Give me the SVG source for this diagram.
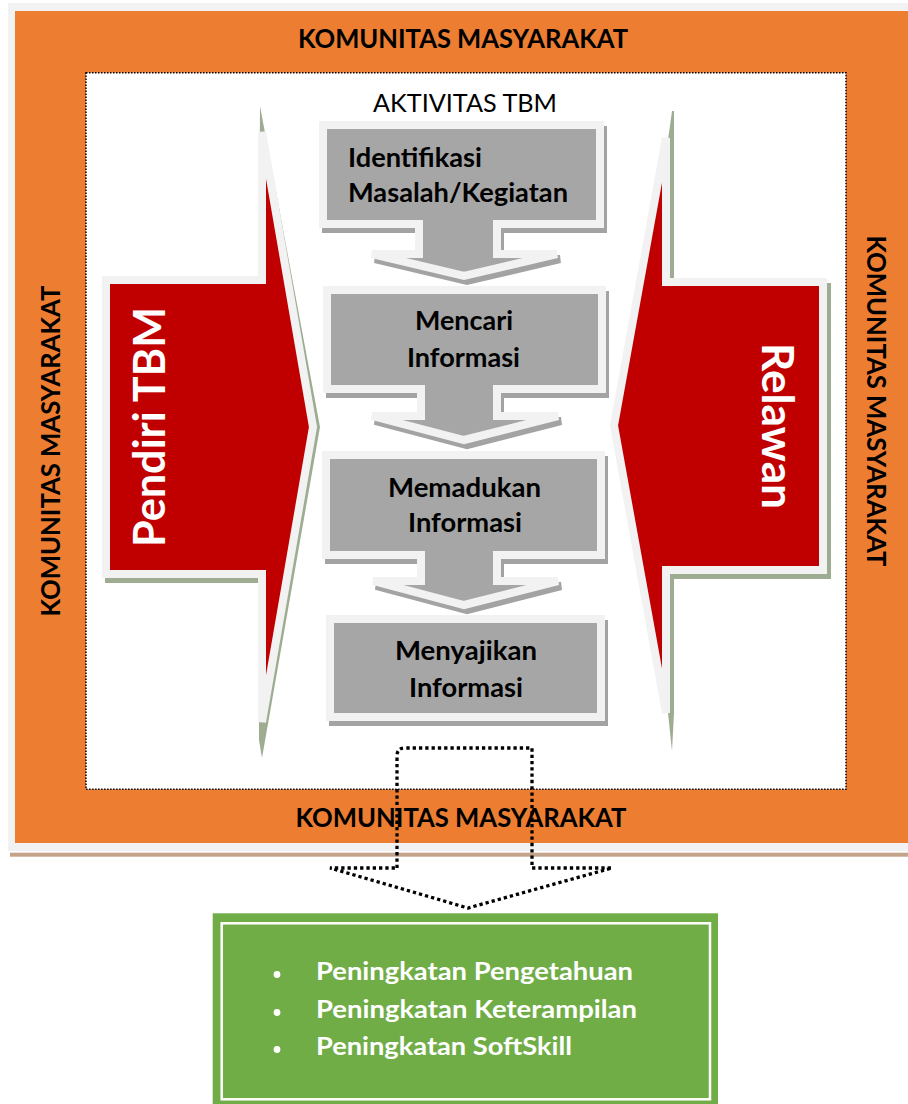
<svg xmlns="http://www.w3.org/2000/svg" width="908" height="1104" viewBox="0 0 908 1104">
<style>
.band{font-family:Lato,"Liberation Sans",sans-serif;font-weight:bold;font-size:26px;fill:#000;text-anchor:middle}
.title{font-family:Lato,"Liberation Sans",sans-serif;font-size:24.5px;fill:#000;text-anchor:middle}
.big{font-family:Lato,"Liberation Sans",sans-serif;font-weight:bold;font-size:44px;fill:#fff;text-anchor:middle}
.box{font-family:Lato,"Liberation Sans",sans-serif;font-weight:bold;font-size:26.5px;fill:#000}
.mid{text-anchor:middle}
.res{font-family:Lato,"Liberation Sans",sans-serif;font-weight:bold;font-size:24.5px;fill:#fff}
.arrowshape{fill:#c00000;stroke:#f2f2f2;stroke-width:8}
.arrowshadow{fill:#9eac92}
.boxshape{fill:#a6a6a6;stroke:#f2f2f2;stroke-width:8}
.boxshadow{fill:#a3a3a3;stroke:#a3a3a3;stroke-width:8}
</style>
<rect x="0" y="0" width="908" height="1104" fill="#fff"/>
<g id="komunitas-frame">
<rect x="8" y="3" width="900" height="848" fill="#f2f2f2"/>
<rect x="10" y="852.7" width="898" height="4" fill="#c4a38b"/>
<rect x="15" y="11" width="893" height="832" fill="#ed7d31"/>
<rect x="86" y="72.7" width="760" height="716.6" fill="#fff" stroke="#000" stroke-width="1.5" stroke-dasharray="1.5 1.5"/>
<text class="band" x="463" y="48" textLength="330" lengthAdjust="spacingAndGlyphs">KOMUNITAS MASYARAKAT</text>
<text class="band" x="461" y="827" textLength="331" lengthAdjust="spacingAndGlyphs">KOMUNITAS MASYARAKAT</text>
<text class="band" transform="translate(60,451) rotate(-90)" textLength="331" lengthAdjust="spacingAndGlyphs">KOMUNITAS MASYARAKAT</text>
<text class="band" transform="translate(867,401) rotate(90)" textLength="331" lengthAdjust="spacingAndGlyphs">KOMUNITAS MASYARAKAT</text>
<text class="title" x="465" y="112" textLength="184" lengthAdjust="spacingAndGlyphs">AKTIVITAS TBM</text>
</g>
<g id="pendiri">
<polygon class="arrowshadow" points="260,106 320,427 262,758 259,740 259,583 105,583 105,290 259,290"/>
<path class="arrowshape" d="M106,280 H262 V132 L313,427 L262,722 V574 H106 Z"/>
<text class="big" transform="translate(165,427) rotate(-90)" textLength="240" lengthAdjust="spacingAndGlyphs">Pendiri TBM</text>
</g>
<g id="relawan">
<polygon class="arrowshadow" points="672,111 674,111 674,283 831,283 831,579 674,579 674,713 672,751 668,713 668,140"/>
<path class="arrowshape" d="M823,282 H666 V138 L614,425.5 L666,713 V570 H823 Z"/>
<text class="big" transform="translate(762,426) rotate(90)" textLength="166" lengthAdjust="spacingAndGlyphs">Relawan</text>
</g>
<g id="identifikasi">
<path class="boxshadow" transform="translate(3,5)" d="M323,125 H600 V224 H497 V254 H557 L464,276 L372,254 H419 V224 H323 Z"/>
<path class="boxshape" d="M323,125 H600 V224 H497 V254 H557 L464,276 L372,254 H419 V224 H323 Z"/>
<text class="box" x="348" y="167" textLength="134" lengthAdjust="spacingAndGlyphs">Identifikasi</text>
<text class="box" x="348" y="202" textLength="220" lengthAdjust="spacingAndGlyphs">Masalah/Kegiatan</text>
</g>
<g id="mencari">
<path class="boxshadow" transform="translate(3,5)" d="M327,290 H602 V389 H497 V416 H558 L464,440 L372,416 H421 V389 H327 Z"/>
<path class="boxshape" d="M327,290 H602 V389 H497 V416 H558 L464,440 L372,416 H421 V389 H327 Z"/>
<text class="box mid" x="464" y="330" textLength="98" lengthAdjust="spacingAndGlyphs">Mencari</text>
<text class="box mid" x="463.5" y="367" textLength="113" lengthAdjust="spacingAndGlyphs">Informasi</text>
</g>
<g id="memadukan">
<path class="boxshadow" transform="translate(3,5)" d="M326,455 H601 V555 H497 V581 H558 L464,605 L373,581 H421 V555 H326 Z"/>
<path class="boxshape" d="M326,455 H601 V555 H497 V581 H558 L464,605 L373,581 H421 V555 H326 Z"/>
<text class="box mid" x="464.5" y="497" textLength="153" lengthAdjust="spacingAndGlyphs">Memadukan</text>
<text class="box mid" x="465" y="532" textLength="114" lengthAdjust="spacingAndGlyphs">Informasi</text>
</g>
<g id="menyajikan">
<path class="boxshadow" transform="translate(3,5)" d="M330,619 H601 V717 H330 Z"/>
<path class="boxshape" d="M330,619 H601 V717 H330 Z"/>
<text class="box mid" x="466" y="660" textLength="142" lengthAdjust="spacingAndGlyphs">Menyajikan</text>
<text class="box mid" x="466" y="697" textLength="114" lengthAdjust="spacingAndGlyphs">Informasi</text>
</g>
<g id="connectors">
<path d="M397,868 V756 Q397,748 405,748 H532 V868 H612 L468,908 L330,868 Z" fill="none" stroke="#000" stroke-width="3.3" stroke-dasharray="3.3 3"/>
</g>
<g id="hasil">
<rect x="212.7" y="913.3" width="505.3" height="195" fill="#70ad47"/>
<rect x="221.7" y="923.3" width="488.3" height="176" fill="none" stroke="#fff" stroke-width="2.5"/>
<circle cx="277" cy="974.5" r="3.4" fill="#fff"/>
<circle cx="277" cy="1012.5" r="3.4" fill="#fff"/>
<circle cx="277" cy="1049.5" r="3.4" fill="#fff"/>
<text class="res" x="316" y="980" textLength="317" lengthAdjust="spacingAndGlyphs">Peningkatan Pengetahuan</text>
<text class="res" x="316" y="1018" textLength="321" lengthAdjust="spacingAndGlyphs">Peningkatan Keterampilan</text>
<text class="res" x="316" y="1055" textLength="256" lengthAdjust="spacingAndGlyphs">Peningkatan SoftSkill</text>
</g>
</svg>
